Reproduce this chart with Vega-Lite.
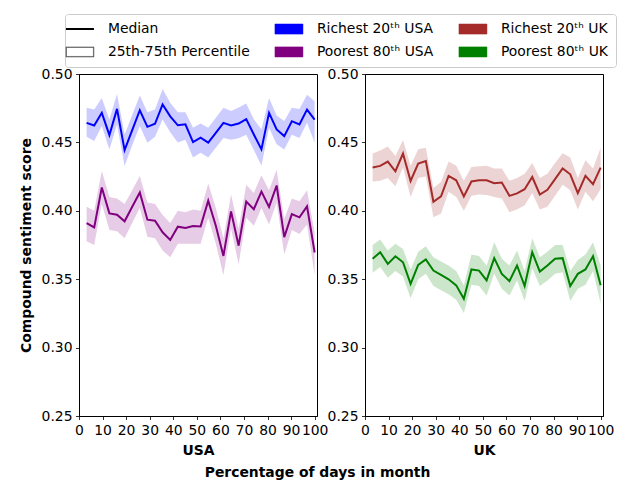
{
  "$schema": "https://vega.github.io/schema/vega-lite/v6.json",
  "padding": {"left": 18, "top": 13, "right": 21, "bottom": 2},
  "config": {
    "font": "DejaVu Sans",
    "view": {"stroke": "black", "strokeWidth": 1},
    "axis": {
      "grid": false,
      "labelFontSize": 13.9,
      "labelColor": "black",
      "labelFont": "DejaVu Sans",
      "tickColor": "black",
      "tickSize": 3.5,
      "tickWidth": 0.8,
      "labelPadding": 3.5,
      "domainColor": "black",
      "domainWidth": 1,
      "titleFontSize": 13.9,
      "titleFontWeight": "bold",
      "titleColor": "black",
      "labelOverlap": false,
      "labelBound": false
    },
    "legend": {
      "orient": "none", "legendX": -14, "legendY": -60,
      "columns": 3, "direction": "horizontal", "title": null,
      "labelFontSize": 13.9, "labelFont": "DejaVu Sans", "labelColor": "black", "labelLimit": 400,
      "symbolSize": 784, "labelOffset": 21, "columnPadding": 23, "rowPadding": 8,
      "fillColor": "white", "strokeColor": "#cccccc", "cornerRadius": 3, "padding": 8,
      "symbolOpacity": 1
    }
  },
  "title": {
    "text": "Percentage of days in month",
    "orient": "bottom",
    "anchor": "middle",
    "fontSize": 13.9,
    "fontWeight": "bold",
    "color": "black",
    "offset": 8,
    "dx": 0
  },
  "data": {
    "values": [
      {"c":"USA","g":"Richest 20ᵗʰ USA","x":3.23,"m":0.4643,"lo":0.4541,"hi":0.4753},
      {"c":"USA","g":"Richest 20ᵗʰ USA","x":6.45,"m":0.4624,"lo":0.4510,"hi":0.4741},
      {"c":"USA","g":"Richest 20ᵗʰ USA","x":9.68,"m":0.4716,"lo":0.4619,"hi":0.4825},
      {"c":"USA","g":"Richest 20ᵗʰ USA","x":12.9,"m":0.4553,"lo":0.4449,"hi":0.4667},
      {"c":"USA","g":"Richest 20ᵗʰ USA","x":16.13,"m":0.4745,"lo":0.4630,"hi":0.4854},
      {"c":"USA","g":"Richest 20ᵗʰ USA","x":19.35,"m":0.4444,"lo":0.4328,"hi":0.4558},
      {"c":"USA","g":"Richest 20ᵗʰ USA","x":22.58,"m":0.4590,"lo":0.4480,"hi":0.4700},
      {"c":"USA","g":"Richest 20ᵗʰ USA","x":25.81,"m":0.4735,"lo":0.4619,"hi":0.4842},
      {"c":"USA","g":"Richest 20ᵗʰ USA","x":29.03,"m":0.4614,"lo":0.4498,"hi":0.4721},
      {"c":"USA","g":"Richest 20ᵗʰ USA","x":32.26,"m":0.4636,"lo":0.4541,"hi":0.4740},
      {"c":"USA","g":"Richest 20ᵗʰ USA","x":35.48,"m":0.4777,"lo":0.4667,"hi":0.4891},
      {"c":"USA","g":"Richest 20ᵗʰ USA","x":38.71,"m":0.4690,"lo":0.4575,"hi":0.4790},
      {"c":"USA","g":"Richest 20ᵗʰ USA","x":41.94,"m":0.4625,"lo":0.4500,"hi":0.4720},
      {"c":"USA","g":"Richest 20ᵗʰ USA","x":45.16,"m":0.4632,"lo":0.4520,"hi":0.4720},
      {"c":"USA","g":"Richest 20ᵗʰ USA","x":48.39,"m":0.4502,"lo":0.4389,"hi":0.4607},
      {"c":"USA","g":"Richest 20ᵗʰ USA","x":51.61,"m":0.4534,"lo":0.4425,"hi":0.4638},
      {"c":"USA","g":"Richest 20ᵗʰ USA","x":54.84,"m":0.4498,"lo":0.4389,"hi":0.4607},
      {"c":"USA","g":"Richest 20ᵗʰ USA","x":58.06,"m":0.4570,"lo":0.4460,"hi":0.4680},
      {"c":"USA","g":"Richest 20ᵗʰ USA","x":61.29,"m":0.4643,"lo":0.4532,"hi":0.4753},
      {"c":"USA","g":"Richest 20ᵗʰ USA","x":64.52,"m":0.4624,"lo":0.4520,"hi":0.4729},
      {"c":"USA","g":"Richest 20ᵗʰ USA","x":67.74,"m":0.4638,"lo":0.4530,"hi":0.4755},
      {"c":"USA","g":"Richest 20ᵗʰ USA","x":70.97,"m":0.4670,"lo":0.4556,"hi":0.4784},
      {"c":"USA","g":"Richest 20ᵗʰ USA","x":74.19,"m":0.4558,"lo":0.4445,"hi":0.4670},
      {"c":"USA","g":"Richest 20ᵗʰ USA","x":77.42,"m":0.4449,"lo":0.4330,"hi":0.4595},
      {"c":"USA","g":"Richest 20ᵗʰ USA","x":80.65,"m":0.4716,"lo":0.4607,"hi":0.4825},
      {"c":"USA","g":"Richest 20ᵗʰ USA","x":83.87,"m":0.4595,"lo":0.4486,"hi":0.4697},
      {"c":"USA","g":"Richest 20ᵗʰ USA","x":87.1,"m":0.4546,"lo":0.4449,"hi":0.4656},
      {"c":"USA","g":"Richest 20ᵗʰ USA","x":90.32,"m":0.4655,"lo":0.4556,"hi":0.4753},
      {"c":"USA","g":"Richest 20ᵗʰ USA","x":93.55,"m":0.4631,"lo":0.4532,"hi":0.4745},
      {"c":"USA","g":"Richest 20ᵗʰ USA","x":96.77,"m":0.4740,"lo":0.4643,"hi":0.4849},
      {"c":"USA","g":"Richest 20ᵗʰ USA","x":100,"m":0.4667,"lo":0.4498,"hi":0.4800},
      {"c":"USA","g":"Poorest 80ᵗʰ USA","x":3.23,"m":0.3910,"lo":0.3777,"hi":0.4029},
      {"c":"USA","g":"Poorest 80ᵗʰ USA","x":6.45,"m":0.3879,"lo":0.3750,"hi":0.4000},
      {"c":"USA","g":"Poorest 80ᵗʰ USA","x":9.68,"m":0.4170,"lo":0.4050,"hi":0.4291},
      {"c":"USA","g":"Poorest 80ᵗʰ USA","x":12.9,"m":0.3981,"lo":0.3860,"hi":0.4100},
      {"c":"USA","g":"Poorest 80ᵗʰ USA","x":16.13,"m":0.3971,"lo":0.3850,"hi":0.4090},
      {"c":"USA","g":"Poorest 80ᵗʰ USA","x":19.35,"m":0.3923,"lo":0.3800,"hi":0.4050},
      {"c":"USA","g":"Poorest 80ᵗʰ USA","x":22.58,"m":0.4029,"lo":0.3910,"hi":0.4150},
      {"c":"USA","g":"Poorest 80ᵗʰ USA","x":25.81,"m":0.4134,"lo":0.4020,"hi":0.4255},
      {"c":"USA","g":"Poorest 80ᵗʰ USA","x":29.03,"m":0.3935,"lo":0.3810,"hi":0.4060},
      {"c":"USA","g":"Poorest 80ᵗʰ USA","x":32.26,"m":0.3927,"lo":0.3800,"hi":0.4050},
      {"c":"USA","g":"Poorest 80ᵗʰ USA","x":35.48,"m":0.3843,"lo":0.3710,"hi":0.3970},
      {"c":"USA","g":"Poorest 80ᵗʰ USA","x":38.71,"m":0.3787,"lo":0.3660,"hi":0.3910},
      {"c":"USA","g":"Poorest 80ᵗʰ USA","x":41.94,"m":0.3884,"lo":0.3760,"hi":0.4000},
      {"c":"USA","g":"Poorest 80ᵗʰ USA","x":45.16,"m":0.3874,"lo":0.3760,"hi":0.3990},
      {"c":"USA","g":"Poorest 80ᵗʰ USA","x":48.39,"m":0.3889,"lo":0.3760,"hi":0.4010},
      {"c":"USA","g":"Poorest 80ᵗʰ USA","x":51.61,"m":0.3886,"lo":0.3760,"hi":0.4000},
      {"c":"USA","g":"Poorest 80ᵗʰ USA","x":54.84,"m":0.4073,"lo":0.3950,"hi":0.4200},
      {"c":"USA","g":"Poorest 80ᵗʰ USA","x":58.06,"m":0.3891,"lo":0.3760,"hi":0.4020},
      {"c":"USA","g":"Poorest 80ᵗʰ USA","x":61.29,"m":0.3670,"lo":0.3530,"hi":0.3800},
      {"c":"USA","g":"Poorest 80ᵗʰ USA","x":64.52,"m":0.3996,"lo":0.3870,"hi":0.4120},
      {"c":"USA","g":"Poorest 80ᵗʰ USA","x":67.74,"m":0.3745,"lo":0.3610,"hi":0.3870},
      {"c":"USA","g":"Poorest 80ᵗʰ USA","x":70.97,"m":0.4068,"lo":0.3950,"hi":0.4190},
      {"c":"USA","g":"Poorest 80ᵗʰ USA","x":74.19,"m":0.4012,"lo":0.3890,"hi":0.4130},
      {"c":"USA","g":"Poorest 80ᵗʰ USA","x":77.42,"m":0.4141,"lo":0.4020,"hi":0.4260},
      {"c":"USA","g":"Poorest 80ᵗʰ USA","x":80.65,"m":0.4029,"lo":0.3900,"hi":0.4150},
      {"c":"USA","g":"Poorest 80ᵗʰ USA","x":83.87,"m":0.4185,"lo":0.4060,"hi":0.4300},
      {"c":"USA","g":"Poorest 80ᵗʰ USA","x":87.1,"m":0.3808,"lo":0.3680,"hi":0.3940},
      {"c":"USA","g":"Poorest 80ᵗʰ USA","x":90.32,"m":0.3976,"lo":0.3860,"hi":0.4090},
      {"c":"USA","g":"Poorest 80ᵗʰ USA","x":93.55,"m":0.3952,"lo":0.3830,"hi":0.4070},
      {"c":"USA","g":"Poorest 80ᵗʰ USA","x":96.77,"m":0.4032,"lo":0.3900,"hi":0.4150},
      {"c":"USA","g":"Poorest 80ᵗʰ USA","x":100,"m":0.3695,"lo":0.3530,"hi":0.3840},
      {"c":"UK","g":"Richest 20ᵗʰ UK","x":3.23,"m":0.4316,"lo":0.4214,"hi":0.4418},
      {"c":"UK","g":"Richest 20ᵗʰ UK","x":6.45,"m":0.4328,"lo":0.4220,"hi":0.4440},
      {"c":"UK","g":"Richest 20ᵗʰ UK","x":9.68,"m":0.4360,"lo":0.4240,"hi":0.4470},
      {"c":"UK","g":"Richest 20ᵗʰ UK","x":12.9,"m":0.4289,"lo":0.4180,"hi":0.4400},
      {"c":"UK","g":"Richest 20ᵗʰ UK","x":16.13,"m":0.4418,"lo":0.4316,"hi":0.4517},
      {"c":"UK","g":"Richest 20ᵗʰ UK","x":19.35,"m":0.4218,"lo":0.4100,"hi":0.4330},
      {"c":"UK","g":"Richest 20ᵗʰ UK","x":22.58,"m":0.4345,"lo":0.4240,"hi":0.4450},
      {"c":"UK","g":"Richest 20ᵗʰ UK","x":25.81,"m":0.4364,"lo":0.4250,"hi":0.4460},
      {"c":"UK","g":"Richest 20ᵗʰ UK","x":29.03,"m":0.4066,"lo":0.3952,"hi":0.4167},
      {"c":"UK","g":"Richest 20ᵗʰ UK","x":32.26,"m":0.4105,"lo":0.3980,"hi":0.4210},
      {"c":"UK","g":"Richest 20ᵗʰ UK","x":35.48,"m":0.4255,"lo":0.4140,"hi":0.4360},
      {"c":"UK","g":"Richest 20ᵗʰ UK","x":38.71,"m":0.4223,"lo":0.4100,"hi":0.4330},
      {"c":"UK","g":"Richest 20ᵗʰ UK","x":41.94,"m":0.4105,"lo":0.4000,"hi":0.4220},
      {"c":"UK","g":"Richest 20ᵗʰ UK","x":45.16,"m":0.4214,"lo":0.4110,"hi":0.4320},
      {"c":"UK","g":"Richest 20ᵗʰ UK","x":48.39,"m":0.4223,"lo":0.4120,"hi":0.4325},
      {"c":"UK","g":"Richest 20ᵗʰ UK","x":51.61,"m":0.4223,"lo":0.4115,"hi":0.4330},
      {"c":"UK","g":"Richest 20ᵗʰ UK","x":54.84,"m":0.4202,"lo":0.4100,"hi":0.4310},
      {"c":"UK","g":"Richest 20ᵗʰ UK","x":58.06,"m":0.4207,"lo":0.4090,"hi":0.4310},
      {"c":"UK","g":"Richest 20ᵗʰ UK","x":61.29,"m":0.4109,"lo":0.3990,"hi":0.4220},
      {"c":"UK","g":"Richest 20ᵗʰ UK","x":64.52,"m":0.4127,"lo":0.4010,"hi":0.4240},
      {"c":"UK","g":"Richest 20ᵗʰ UK","x":67.74,"m":0.4158,"lo":0.4040,"hi":0.4270},
      {"c":"UK","g":"Richest 20ᵗʰ UK","x":70.97,"m":0.4247,"lo":0.4130,"hi":0.4350},
      {"c":"UK","g":"Richest 20ᵗʰ UK","x":74.19,"m":0.4119,"lo":0.4010,"hi":0.4240},
      {"c":"UK","g":"Richest 20ᵗʰ UK","x":77.42,"m":0.4153,"lo":0.4030,"hi":0.4270},
      {"c":"UK","g":"Richest 20ᵗʰ UK","x":80.65,"m":0.4231,"lo":0.4110,"hi":0.4350},
      {"c":"UK","g":"Richest 20ᵗʰ UK","x":83.87,"m":0.4309,"lo":0.4190,"hi":0.4420},
      {"c":"UK","g":"Richest 20ᵗʰ UK","x":87.1,"m":0.4267,"lo":0.4150,"hi":0.4390},
      {"c":"UK","g":"Richest 20ᵗʰ UK","x":90.32,"m":0.4129,"lo":0.4010,"hi":0.4240},
      {"c":"UK","g":"Richest 20ᵗʰ UK","x":93.55,"m":0.4255,"lo":0.4140,"hi":0.4370},
      {"c":"UK","g":"Richest 20ᵗʰ UK","x":96.77,"m":0.4194,"lo":0.4070,"hi":0.4310},
      {"c":"UK","g":"Richest 20ᵗʰ UK","x":100,"m":0.4316,"lo":0.4158,"hi":0.4461},
      {"c":"UK","g":"Poorest 80ᵗʰ UK","x":3.23,"m":0.3649,"lo":0.3547,"hi":0.3750},
      {"c":"UK","g":"Poorest 80ᵗʰ UK","x":6.45,"m":0.3697,"lo":0.3590,"hi":0.3790},
      {"c":"UK","g":"Poorest 80ᵗʰ UK","x":9.68,"m":0.3612,"lo":0.3510,"hi":0.3710},
      {"c":"UK","g":"Poorest 80ᵗʰ UK","x":12.9,"m":0.3668,"lo":0.3560,"hi":0.3760},
      {"c":"UK","g":"Poorest 80ᵗʰ UK","x":16.13,"m":0.3624,"lo":0.3520,"hi":0.3720},
      {"c":"UK","g":"Poorest 80ᵗʰ UK","x":19.35,"m":0.3466,"lo":0.3360,"hi":0.3570},
      {"c":"UK","g":"Poorest 80ᵗʰ UK","x":22.58,"m":0.3605,"lo":0.3500,"hi":0.3700},
      {"c":"UK","g":"Poorest 80ᵗʰ UK","x":25.81,"m":0.3644,"lo":0.3540,"hi":0.3740},
      {"c":"UK","g":"Poorest 80ᵗʰ UK","x":29.03,"m":0.3563,"lo":0.3450,"hi":0.3660},
      {"c":"UK","g":"Poorest 80ᵗʰ UK","x":32.26,"m":0.3532,"lo":0.3420,"hi":0.3630},
      {"c":"UK","g":"Poorest 80ᵗʰ UK","x":35.48,"m":0.3499,"lo":0.3390,"hi":0.3600},
      {"c":"UK","g":"Poorest 80ᵗʰ UK","x":38.71,"m":0.3455,"lo":0.3350,"hi":0.3560},
      {"c":"UK","g":"Poorest 80ᵗʰ UK","x":41.94,"m":0.3357,"lo":0.3253,"hi":0.3455},
      {"c":"UK","g":"Poorest 80ᵗʰ UK","x":45.16,"m":0.3571,"lo":0.3460,"hi":0.3680},
      {"c":"UK","g":"Poorest 80ᵗʰ UK","x":48.39,"m":0.3563,"lo":0.3450,"hi":0.3670},
      {"c":"UK","g":"Poorest 80ᵗʰ UK","x":51.61,"m":0.3491,"lo":0.3380,"hi":0.3600},
      {"c":"UK","g":"Poorest 80ᵗʰ UK","x":54.84,"m":0.3654,"lo":0.3540,"hi":0.3770},
      {"c":"UK","g":"Poorest 80ᵗʰ UK","x":58.06,"m":0.3539,"lo":0.3430,"hi":0.3650},
      {"c":"UK","g":"Poorest 80ᵗʰ UK","x":61.29,"m":0.3486,"lo":0.3380,"hi":0.3600},
      {"c":"UK","g":"Poorest 80ᵗʰ UK","x":64.52,"m":0.3600,"lo":0.3490,"hi":0.3710},
      {"c":"UK","g":"Poorest 80ᵗʰ UK","x":67.74,"m":0.3450,"lo":0.3340,"hi":0.3560},
      {"c":"UK","g":"Poorest 80ᵗʰ UK","x":70.97,"m":0.3697,"lo":0.3580,"hi":0.3800},
      {"c":"UK","g":"Poorest 80ᵗʰ UK","x":74.19,"m":0.3556,"lo":0.3450,"hi":0.3660},
      {"c":"UK","g":"Poorest 80ᵗʰ UK","x":77.42,"m":0.3600,"lo":0.3490,"hi":0.3700},
      {"c":"UK","g":"Poorest 80ᵗʰ UK","x":80.65,"m":0.3649,"lo":0.3540,"hi":0.3750},
      {"c":"UK","g":"Poorest 80ᵗʰ UK","x":83.87,"m":0.3654,"lo":0.3550,"hi":0.3750},
      {"c":"UK","g":"Poorest 80ᵗʰ UK","x":87.1,"m":0.3450,"lo":0.3340,"hi":0.3560},
      {"c":"UK","g":"Poorest 80ᵗʰ UK","x":90.32,"m":0.3539,"lo":0.3430,"hi":0.3640},
      {"c":"UK","g":"Poorest 80ᵗʰ UK","x":93.55,"m":0.3571,"lo":0.3460,"hi":0.3680},
      {"c":"UK","g":"Poorest 80ᵗʰ UK","x":96.77,"m":0.3668,"lo":0.3560,"hi":0.3770},
      {"c":"UK","g":"Poorest 80ᵗʰ UK","x":100,"m":0.3455,"lo":0.3320,"hi":0.3600}
    ]
  },
  "bounds": "flush",
  "spacing": 48,
  "resolve": {"scale": {"color": "shared"}, "legend": {"color": "shared"}},
  "hconcat": [
    {
      "width": 238,
      "height": 342,
      "transform": [{"filter": "datum.c === 'USA'"}],
      "encoding": {
        "x": {"field": "x", "type": "quantitative", "scale": {"domain": [0, 101], "nice": false},
              "axis": {"values": [0,10,20,30,40,50,60,70,80,90,100], "title": "USA", "titlePadding": 7, "labelFlush": false}},
        "color": {
          "field": "g", "type": "nominal",
          "scale": {
            "domain": ["Median", "Richest 20ᵗʰ USA", "Richest 20ᵗʰ UK", "25th-75th Percentile", "Poorest 80ᵗʰ USA", "Poorest 80ᵗʰ UK"],
            "range": ["black", "blue", "#a52a2a", "#555555", "purple", "green"]
          },
          "legend": {
            "encode": {
              "symbols": {
                "update": {
                  "shape": {"signal": "datum.value === 'Median' ? 'M-1,0H1' : datum.value === '25th-75th Percentile' ? 'M-1,-0.36H1V0.36H-1ZM-0.96,-0.32V0.32H0.96V-0.32Z' : 'M-1,-0.36H1V0.36H-1Z'"},
                  "strokeWidth": {"signal": "datum.value === 'Median' ? 2 : 0.5"},
                  "opacity": {"value": 1}
                }
              }
            }
          }
        }
      },
      "layer": [
        {"mark": {"type": "area", "opacity": 0.2},
         "encoding": {"y": {"field": "lo", "type": "quantitative", "scale": {"domain": [0.25, 0.5], "nice": false, "zero": false}}, "y2": {"field": "hi"}}},
        {"mark": {"type": "line", "strokeWidth": 2},
         "encoding": {"y": {"field": "m", "type": "quantitative", "scale": {"domain": [0.25, 0.5], "nice": false, "zero": false},
                            "axis": {"values": [0.25,0.3,0.35,0.4,0.45,0.5], "format": ".2f", "title": "Compound sentiment score", "titlePadding": 8}}}}
      ]
    },
    {
      "width": 238,
      "height": 342,
      "transform": [{"filter": "datum.c === 'UK'"}],
      "encoding": {
        "x": {"field": "x", "type": "quantitative", "scale": {"domain": [0, 101], "nice": false},
              "axis": {"values": [0,10,20,30,40,50,60,70,80,90,100], "title": "UK", "titlePadding": 7, "labelFlush": false}},
        "color": {
          "field": "g", "type": "nominal",
          "scale": {
            "domain": ["Median", "Richest 20ᵗʰ USA", "Richest 20ᵗʰ UK", "25th-75th Percentile", "Poorest 80ᵗʰ USA", "Poorest 80ᵗʰ UK"],
            "range": ["black", "blue", "#a52a2a", "#555555", "purple", "green"]
          },
          "legend": {
            "encode": {
              "symbols": {
                "update": {
                  "shape": {"signal": "datum.value === 'Median' ? 'M-1,0H1' : datum.value === '25th-75th Percentile' ? 'M-1,-0.36H1V0.36H-1ZM-0.96,-0.32V0.32H0.96V-0.32Z' : 'M-1,-0.36H1V0.36H-1Z'"},
                  "strokeWidth": {"signal": "datum.value === 'Median' ? 2 : 0.5"},
                  "opacity": {"value": 1}
                }
              }
            }
          }
        }
      },
      "layer": [
        {"mark": {"type": "area", "opacity": 0.2},
         "encoding": {"y": {"field": "lo", "type": "quantitative", "scale": {"domain": [0.25, 0.5], "nice": false, "zero": false}}, "y2": {"field": "hi"}}},
        {"mark": {"type": "line", "strokeWidth": 2},
         "encoding": {"y": {"field": "m", "type": "quantitative", "scale": {"domain": [0.25, 0.5], "nice": false, "zero": false},
                            "axis": {"values": [0.25,0.3,0.35,0.4,0.45,0.5], "format": ".2f", "title": null}}}}
      ]
    }
  ]
}
